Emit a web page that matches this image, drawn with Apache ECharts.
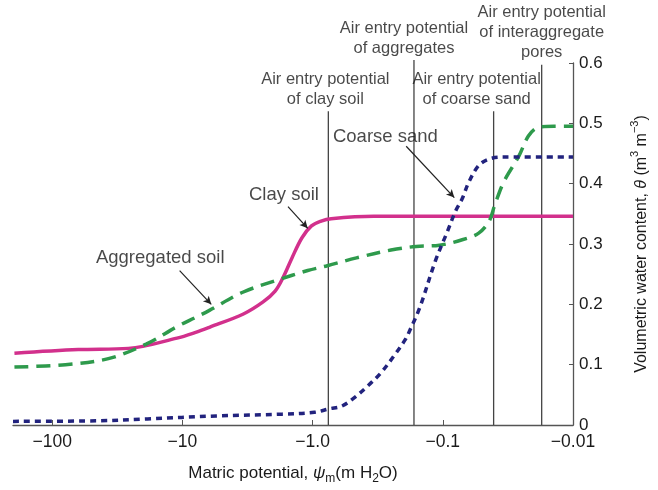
<!DOCTYPE html>
<html>
<head>
<meta charset="utf-8">
<script src="https://cdn.jsdelivr.net/npm/echarts@6/dist/echarts.min.js"></script>
<style>html,body{margin:0;padding:0;background:#fff}#c{width:658px;height:490px}</style>
</head>
<body>
<div id="c"></div>
<script>
// magnitude of matric potential (m H2O) -> plotted as negative values on an inverted log axis
var xTickValues = [100, 10, 1, 0.1, 0.01];
var xTickLabels = ['\u2212100', '\u221210', '\u22121.0', '\u22120.1', '\u22120.01'];
var yTickValues = [0, 0.1, 0.2, 0.3, 0.4, 0.5, 0.6];

var clayPsi   = [195, 63, 26, 11, 7.8, 6.2, 3.4, 2.4, 1.94, 1.69, 1.44, 1.21, 1.02, 0.86, 0.72, 0.34, 0.01];
var clayTheta = [0.119, 0.125, 0.127, 0.144, 0.154, 0.162, 0.184, 0.204, 0.222, 0.244, 0.277, 0.31, 0.33, 0.338, 0.342, 0.346, 0.346];

var aggPsi   = [195, 79, 37, 19, 11, 7.8, 6.2, 3.44, 1.94, 1.09, 0.77, 0.46, 0.25, 0.16, 0.106, 0.071, 0.053, 0.044, 0.04, 0.034, 0.026, 0.022, 0.0186, 0.014, 0.01];
var aggTheta = [0.096, 0.1, 0.11, 0.134, 0.163, 0.179, 0.19, 0.22, 0.239, 0.256, 0.264, 0.277, 0.29, 0.296, 0.298, 0.307, 0.318, 0.338, 0.364, 0.403, 0.446, 0.479, 0.493, 0.495, 0.495];

var sandPsi   = [200, 44.5, 18.6, 5.5, 1.71, 0.97, 0.74, 0.6, 0.48, 0.38, 0.3, 0.24, 0.195, 0.179, 0.15, 0.114, 0.092, 0.08, 0.071, 0.063, 0.053, 0.044, 0.034, 0.01];
var sandTheta = [0.006, 0.007, 0.01, 0.015, 0.018, 0.021, 0.027, 0.031, 0.045, 0.064, 0.086, 0.113, 0.141, 0.157, 0.195, 0.272, 0.321, 0.354, 0.375, 0.403, 0.43, 0.441, 0.444, 0.444];

var airEntryText = ['Air entry potential\nof clay soil', 'Air entry potential\nof aggregates', 'Air entry potential\nof coarse sand', 'Air entry potential\nof interaggregate\npores'];
var airEntryPsi  = [0.757, 0.1665, 0.0407, 0.0174];
var airEntryTop  = [0.52, 0.605, 0.52, 0.597];
var airEntryShift = [-3, -10, -17, 0];

var curveLabelText  = ['Coarse sand', 'Clay soil', 'Aggregated soil'];
var curveLabelPsi   = [0.276, 1.66, 14.8];
var curveLabelTheta = [0.477, 0.382, 0.277];
var arrowFromPsi = [0.191, 1.545, 10.5];
var arrowFromTheta = [0.462, 0.362, 0.256];
var arrowToPsi = [0.0816, 1.09, 6.0];
var arrowToTheta = [0.377, 0.326, 0.2];

function pairs(xs, ys) { return xs.map(function (x, i) { return [x, ys[i]]; }); }

var FONT = 'Liberation Sans, Arial, sans-serif';
var TXT = '#1a1a1a';

var series = [];
series.push({
  type: 'line', name: 'Clay soil', data: pairs(clayPsi, clayTheta), smooth: 0.35, showSymbol: false,
  lineStyle: { color: '#d2308c', width: 3.5 }, z: 4
});
series.push({
  type: 'line', name: 'Aggregated soil', data: pairs(aggPsi, aggTheta), smooth: 0.35, showSymbol: false,
  lineStyle: { color: '#2e9a4c', width: 3.5, type: [14, 8] }, z: 5
});
series.push({
  type: 'line', name: 'Coarse sand', data: pairs(sandPsi, sandTheta), smooth: 0.35, showSymbol: false,
  lineStyle: { color: '#22237e', width: 3.5, type: [6, 5] }, z: 6
});
airEntryPsi.forEach(function (p, i) {
  series.push({
    type: 'line', data: [[p, 0], [p, airEntryTop[i]]], showSymbol: false, clip: false, silent: true,
    lineStyle: { color: '#444', width: 1.3 }, z: 2
  });
});
series.push({
  type: 'scatter', clip: false, symbolSize: 0, silent: true,
  data: airEntryPsi.map(function (p, i) {
    return {
      value: [p, airEntryTop[i]],
      label: { show: true, position: 'top', distance: 2, offset: [airEntryShift[i], 0],
        formatter: airEntryText[i], color: TXT, fontSize: 16.5, fontFamily: FONT, lineHeight: 20, align: 'center' }
    };
  }),
  z: 7
});
series.push({
  type: 'scatter', clip: false, symbolSize: 0, silent: true,
  data: curveLabelPsi.map(function (p, i) {
    return {
      value: [p, curveLabelTheta[i]],
      label: { show: true, position: 'inside', formatter: curveLabelText[i], color: TXT, fontSize: 18.5, fontFamily: FONT }
    };
  }),
  markLine: {
    silent: true, symbol: ['none', 'arrow'], symbolSize: [6, 8],
    label: { show: false },
    lineStyle: { color: '#222', width: 1.2, type: 'solid' },
    data: arrowFromPsi.map(function (p, i) {
      return [{ coord: [p, arrowFromTheta[i]] }, { coord: [arrowToPsi[i], arrowToTheta[i]] }];
    })
  },
  z: 7
});

var option = {
  animation: false,
  backgroundColor: '#fff',
  grid: { left: 13, right: 76, top: 63, bottom: 61, containLabel: false },
  xAxis: {
    type: 'log', logBase: 10, min: 0.01, max: 200, inverse: true, position: 'bottom',
    name: '{n|Matric potential, }{i|\u03c8}{s|m}{n|(m H}{s|2}{n|O)}',
    nameLocation: 'middle', nameGap: 36,
    nameTextStyle: {
      rich: {
        n: { fontSize: 17, fontFamily: FONT, color: TXT, lineHeight: 24 },
        i: { fontSize: 17, fontFamily: FONT, color: TXT, fontStyle: 'italic', lineHeight: 24 },
        s: { fontSize: 12, fontFamily: FONT, color: TXT, lineHeight: 12, verticalAlign: 'bottom' }
      }
    },
    axisLine: { show: true, onZero: false, lineStyle: { color: '#555', width: 1.3 } },
    axisTick: { show: true, inside: true, length: 5, customValues: xTickValues, lineStyle: { color: '#555' } },
    axisLabel: {
      customValues: xTickValues, margin: 8, color: TXT, fontSize: 17.5, fontFamily: FONT,
      formatter: function (v) {
        for (var i = 0; i < xTickValues.length; i++) {
          if (Math.abs(Math.log10(v) - Math.log10(xTickValues[i])) < 1e-6) return xTickLabels[i];
        }
        return '';
      }
    },
    splitLine: { show: false }
  },
  yAxis: {
    type: 'value', position: 'right', min: 0, max: 0.6, interval: 0.1,
    name: '{n|Volumetric water content, }{i|\u03b8}{n| (m}{p|3}{n| m}{p|\u22123}{n|)}',
    nameLocation: 'middle', nameGap: 56, nameRotate: 90,
    nameTextStyle: {
      rich: {
        n: { fontSize: 16, fontFamily: FONT, color: TXT, lineHeight: 26 },
        i: { fontSize: 16, fontFamily: FONT, color: TXT, fontStyle: 'italic', lineHeight: 26 },
        p: { fontSize: 11, fontFamily: FONT, color: TXT, lineHeight: 11, verticalAlign: 'top' }
      }
    },
    axisLine: { show: true, lineStyle: { color: '#555', width: 1.3 } },
    axisTick: { show: true, inside: true, length: 4, lineStyle: { color: '#555' } },
    axisLabel: {
      margin: 6, color: TXT, fontSize: 17, fontFamily: FONT,
      formatter: function (v) { return v === 0 ? '0' : v.toFixed(1); }
    },
    splitLine: { show: false }
  },
  series: series
};

var chart = echarts.init(document.getElementById('c'), null, { renderer: 'canvas' });
chart.setOption(option);
</script>
</body>
</html>
